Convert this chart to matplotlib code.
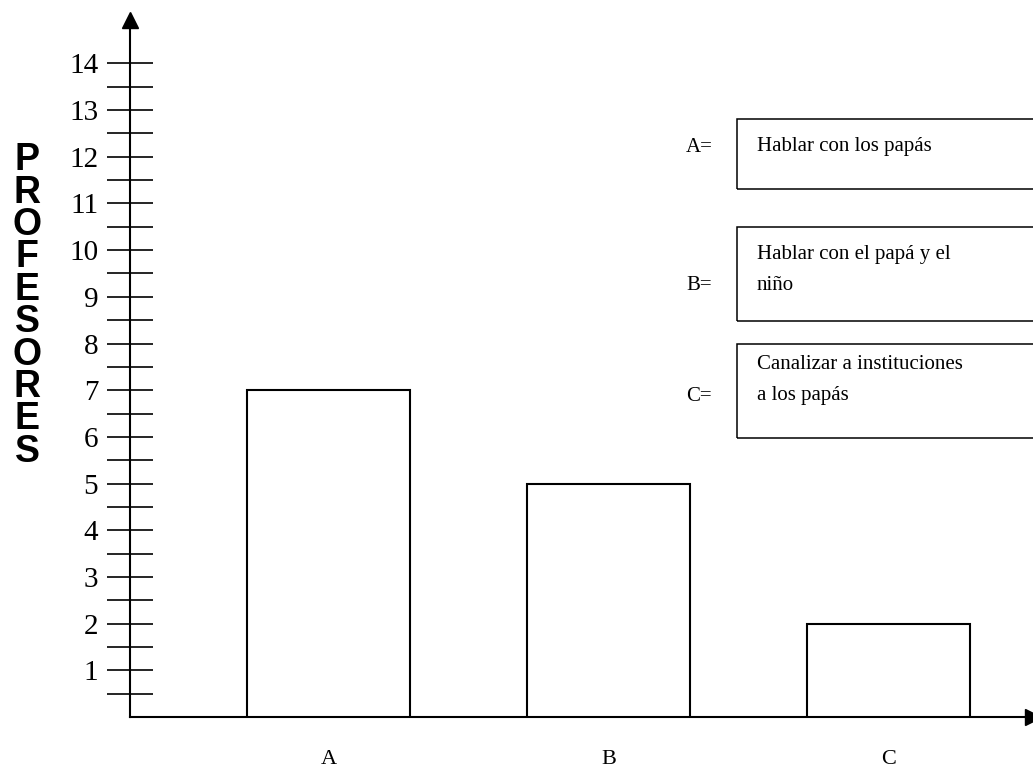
import matplotlib.pyplot as plt
from matplotlib.patches import Rectangle

# --- DATA ---
categories = ["A", "B", "C"]
profesores = [7, 5, 2]
y_major = list(range(1, 15))
y_minor = [v + 0.5 for v in range(0, 14)]
y_title = "PROFESORES"
legend_keys = ["A=", "B=", "C="]
legend_labels = [
    "Hablar con los papás",
    "Hablar con el papá y el\nniño",
    "Canalizar a instituciones\na los papás",
]

# --- LAYOUT (pixels of the 1033x772 canvas) ---
W, H, DPI = 1033, 772, 100
box_tops = [119, 227, 344]
box_bottoms = [189, 321, 438]
text_centers = [147, 270, 380]
key_centers = [147, 285, 396]


def fig_xy(x, y):
    """Pixel position (origin top-left) -> figure fraction."""
    return x / W, 1 - y / H


plt.rcParams["font.family"] = ["Liberation Serif", "DejaVu Serif"]

fig = plt.figure(figsize=(W / DPI, H / DPI), dpi=DPI)
ax = fig.add_axes([130 / W, 55 / H, 903 / W, 697 / H])

xpos = list(range(len(categories)))
ax.bar(xpos, profesores, width=0.582, color="white", edgecolor="black",
       linewidth=1.5, zorder=3)

ax.set_xlim(-0.709, 2.516)
ax.set_ylim(0, 14.93)

# axes: only left/bottom, with arrow heads
for side in ("top", "right"):
    ax.spines[side].set_visible(False)
for side in ("left", "bottom"):
    ax.spines[side].set_linewidth(1.5)
    ax.spines[side].set_color("black")
ax.plot(1, 0, ">", color="black", markersize=11, transform=ax.transAxes, clip_on=False)
ax.plot(0, 1, "^", color="black", markersize=11, transform=ax.transAxes, clip_on=False)

# y ticks crossing the axis, label on every integer
ax.set_yticks(y_major)
ax.set_yticks(y_minor, minor=True)
ax.tick_params(axis="y", which="both", direction="inout", length=33.8,
               width=1.2, color="black")
ax.tick_params(axis="y", which="major", labelsize=21, pad=6)

ax.set_xticks(xpos, categories)
ax.tick_params(axis="x", length=0, pad=24, labelsize=16)

# vertical stacked axis title
fig.text(*fig_xy(27, 306), "\n".join(y_title), family=["Liberation Sans", "DejaVu Sans"],
         weight="bold", fontsize=27, linespacing=0.87, ha="center", va="center")

# legend boxes on the right
for key, label, top, bottom, yc, yk in zip(legend_keys, legend_labels, box_tops,
                                           box_bottoms, text_centers, key_centers):
    x0, y0 = fig_xy(737, bottom)
    fig.add_artist(Rectangle((x0, y0), 400 / W, (bottom - top) / H, fill=False,
                             edgecolor="black", linewidth=1.1,
                             transform=fig.transFigure))
    fig.text(*fig_xy(686, yk), key, fontsize=15, ha="left", va="center")
    fig.text(*fig_xy(757, yc), label, fontsize=15, ha="left", va="center",
             linespacing=1.9)

fig.savefig("out.png", dpi=DPI)
